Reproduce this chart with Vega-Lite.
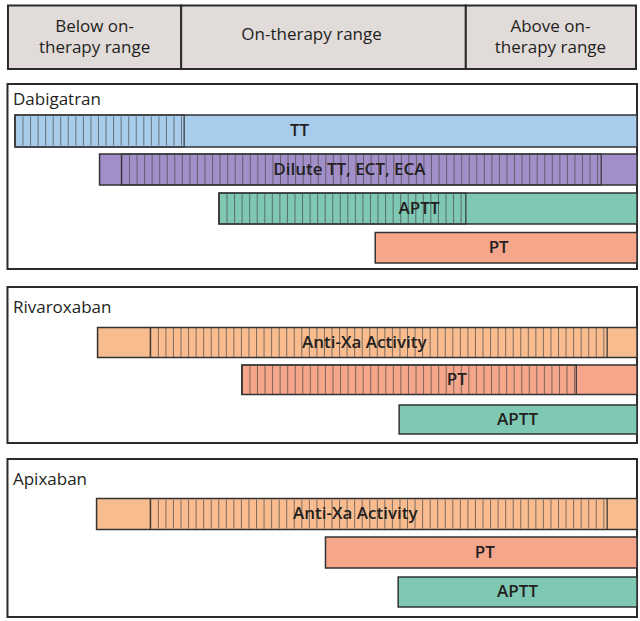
{
  "$schema": "https://vega.github.io/schema/vega-lite/v6.json",
  "width": 640,
  "height": 621,
  "padding": 0,
  "autosize": {"type": "fit", "contains": "padding"},
  "background": "white",
  "config": {"view": {"stroke": null}},
  "datasets": {
    "header": [
      {"zone": "Below on-therapy range", "x0": 0.5, "x1": 17.9, "y0": 0.55, "y1": 6.9},
      {"zone": "On-therapy range", "x0": 17.9, "x1": 46.5, "y0": 0.55, "y1": 6.9},
      {"zone": "Above on-therapy range", "x0": 46.5, "x1": 63.6, "y0": 0.55, "y1": 6.9}
    ],
    "headerText": [
      {"line": "Below on-", "lx": 9.2, "ly": 2.65},
      {"line": "therapy range", "lx": 9.2, "ly": 4.75},
      {"line": "On-therapy range", "lx": 31.0, "ly": 3.5},
      {"line": "Above on-", "lx": 55.0, "ly": 2.65},
      {"line": "therapy range", "lx": 55.0, "ly": 4.75}
    ],
    "panels": [
      {"drug": "Dabigatran", "x0": 0.45, "x1": 63.7, "y0": 8.4, "y1": 26.9, "tx": 1.0, "ty": 10.5},
      {"drug": "Rivaroxaban", "x0": 0.45, "x1": 63.7, "y0": 28.7, "y1": 44.3, "tx": 1.0, "ty": 31.3},
      {"drug": "Apixaban", "x0": 0.45, "x1": 63.7, "y0": 45.9, "y1": 61.7, "tx": 1.0, "ty": 48.5}
    ],
    "tests": [
      {"drug": "Dabigatran", "test": "TT", "x0": 1.2, "x1": 63.7, "y0": 11.5, "y1": 14.7, "h0": 1.2, "h1": 18.2, "lx": 29.8, "ym": 13.1},
      {"drug": "Dabigatran", "test": "Dilute TT, ECT, ECA", "x0": 9.7, "x1": 63.7, "y0": 15.4, "y1": 18.5, "h0": 11.9, "h1": 60.1, "lx": 34.8, "ym": 16.95},
      {"drug": "Dabigatran", "test": "APTT", "x0": 21.7, "x1": 63.7, "y0": 19.3, "y1": 22.4, "h0": 21.7, "h1": 46.5, "lx": 41.8, "ym": 20.85},
      {"drug": "Dabigatran", "test": "PT", "x0": 37.4, "x1": 63.7, "y0": 23.25, "y1": 26.3, "h0": null, "h1": null, "lx": 49.8, "ym": 24.8},
      {"drug": "Rivaroxaban", "test": "Anti-Xa Activity", "x0": 9.5, "x1": 63.7, "y0": 32.75, "y1": 35.75, "h0": 14.8, "h1": 60.7, "lx": 36.3, "ym": 34.25},
      {"drug": "Rivaroxaban", "test": "PT", "x0": 24.0, "x1": 63.7, "y0": 36.5, "y1": 39.45, "h0": 24.0, "h1": 57.6, "lx": 45.6, "ym": 37.95},
      {"drug": "Rivaroxaban", "test": "APTT", "x0": 39.8, "x1": 63.7, "y0": 40.5, "y1": 43.4, "h0": null, "h1": null, "lx": 51.7, "ym": 41.95},
      {"drug": "Apixaban", "test": "Anti-Xa Activity", "x0": 9.4, "x1": 63.7, "y0": 49.85, "y1": 52.95, "h0": 14.8, "h1": 60.7, "lx": 35.4, "ym": 51.4},
      {"drug": "Apixaban", "test": "PT", "x0": 32.4, "x1": 63.7, "y0": 53.7, "y1": 56.8, "h0": null, "h1": null, "lx": 48.4, "ym": 55.25},
      {"drug": "Apixaban", "test": "APTT", "x0": 39.7, "x1": 63.7, "y0": 57.7, "y1": 60.7, "h0": null, "h1": null, "lx": 51.7, "ym": 59.2}
    ]
  },
  "layer": [
    {
      "data": {"name": "header"},
      "mark": {"type": "rect", "fill": "#e1dbda", "stroke": "#2b2b2b", "strokeWidth": 2},
      "encoding": {
        "x": {"field": "x0", "type": "quantitative", "scale": {"domain": [0, 64], "nice": false, "zero": false}, "axis": null},
        "x2": {"field": "x1"},
        "y": {"field": "y0", "type": "quantitative", "scale": {"domain": [0, 62.1], "nice": false, "zero": false, "reverse": true}, "axis": null},
        "y2": {"field": "y1"}
      }
    },
    {
      "data": {"name": "headerText"},
      "mark": {"type": "text", "font": "Open Sans", "fontSize": 17, "color": "#231f20", "align": "center", "baseline": "middle"},
      "encoding": {
        "x": {"field": "lx", "type": "quantitative"},
        "y": {"field": "ly", "type": "quantitative"},
        "text": {"field": "line"}
      }
    },
    {
      "data": {"name": "panels"},
      "mark": {"type": "rect", "fill": "white", "stroke": "#2b2b2b", "strokeWidth": 2},
      "encoding": {
        "x": {"field": "x0", "type": "quantitative"},
        "x2": {"field": "x1"},
        "y": {"field": "y0", "type": "quantitative"},
        "y2": {"field": "y1"}
      }
    },
    {
      "data": {"name": "panels"},
      "mark": {"type": "text", "font": "Open Sans", "fontSize": 17, "color": "#231f20", "align": "left", "baseline": "alphabetic"},
      "encoding": {
        "x": {"field": "tx", "type": "quantitative"},
        "y": {"field": "ty", "type": "quantitative"},
        "text": {"field": "drug"}
      }
    },
    {
      "data": {"name": "tests"},
      "mark": {"type": "rect", "stroke": "#333333", "strokeWidth": 1.5, "opacity": 1},
      "encoding": {
        "x": {"field": "x0", "type": "quantitative"},
        "x2": {"field": "x1"},
        "y": {"field": "y0", "type": "quantitative"},
        "y2": {"field": "y1"},
        "color": {
          "field": "test",
          "type": "nominal",
          "legend": null,
          "scale": {
            "domain": ["TT", "Dilute TT, ECT, ECA", "APTT", "PT", "Anti-Xa Activity"],
            "range": ["#a8cdec", "#a28ec8", "#7ec8b4", "#f5a68b", "#f9bc8f"]
          }
        }
      }
    },
    {
      "data": {"name": "tests"},
      "transform": [{"filter": "datum.h0 != null"}],
      "mark": {"type": "rule", "stroke": "#4a4a4a", "strokeWidth": 29, "strokeDash": [1, 6.55], "strokeCap": "butt", "opacity": 0.7},
      "encoding": {
        "x": {"field": "h0", "type": "quantitative"},
        "x2": {"field": "h1"},
        "y": {"field": "ym", "type": "quantitative"}
      }
    },
    {
      "data": {"name": "tests"},
      "transform": [{"filter": "datum.h0 != null"}],
      "mark": {"type": "rect", "fillOpacity": 0, "stroke": "#333333", "strokeWidth": 1.2},
      "encoding": {
        "x": {"field": "h0", "type": "quantitative"},
        "x2": {"field": "h1"},
        "y": {"field": "y0", "type": "quantitative"},
        "y2": {"field": "y1"}
      }
    },
    {
      "data": {"name": "tests"},
      "mark": {"type": "text", "font": "Open Sans", "fontSize": 17, "fontWeight": 600, "color": "#231f20", "align": "center", "baseline": "middle"},
      "encoding": {
        "x": {"field": "lx", "type": "quantitative"},
        "y": {"field": "ym", "type": "quantitative"},
        "text": {"field": "test"}
      }
    }
  ]
}
